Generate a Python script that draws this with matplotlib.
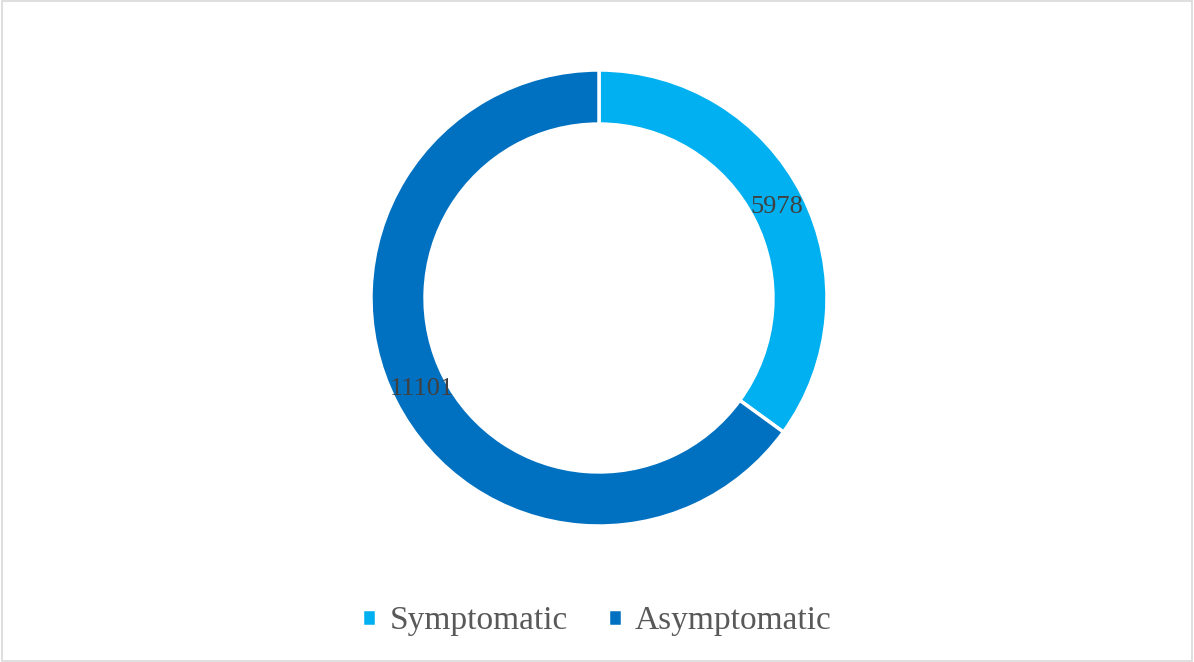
import matplotlib.pyplot as plt
from matplotlib.patches import Rectangle

# Data
labels = ['Symptomatic', 'Asymptomatic']
values = [5978, 11101]
colors = ['#00B0F0', '#0070C0']

plt.rcParams['font.family'] = ['Liberation Serif', 'DejaVu Serif']

W, H = 1194, 662
fig = plt.figure(figsize=(W / 100, H / 100), dpi=100)

# donut centre and radius in pixels
cx, cy, r = 599, 298, 228
ax = fig.add_axes([(cx - r) / W, (H - cy - r) / H, 2 * r / W, 2 * r / H])

wedges, texts, autotexts = ax.pie(
    values, colors=colors, startangle=90, counterclock=False, radius=1,
    wedgeprops=dict(width=0.237, edgecolor='white', linewidth=2.5),
    autopct=lambda p: '{:.0f}'.format(p * sum(values) / 100),
    pctdistance=0.875, textprops=dict(color='#404040', fontsize=19))
ax.set_xlim(-1, 1)
ax.set_ylim(-1, 1)
ax.set_aspect('equal')

leg = fig.legend(wedges, labels, loc='center', bbox_to_anchor=(0.5, 1 - 621 / H),
                 ncol=2, frameon=False, fontsize=24, handlelength=0.42, handleheight=0.42,
                 handletextpad=0.4, columnspacing=1.2)
for t in leg.get_texts():
    t.set_color('#595959')

# thin border around the chart area
fig.patches.append(Rectangle((0.002, 0.002), 0.996, 0.996, transform=fig.transFigure,
                             fill=False, edgecolor='#D9D9D9', linewidth=1.2))

fig.savefig('out.png', dpi=100)
